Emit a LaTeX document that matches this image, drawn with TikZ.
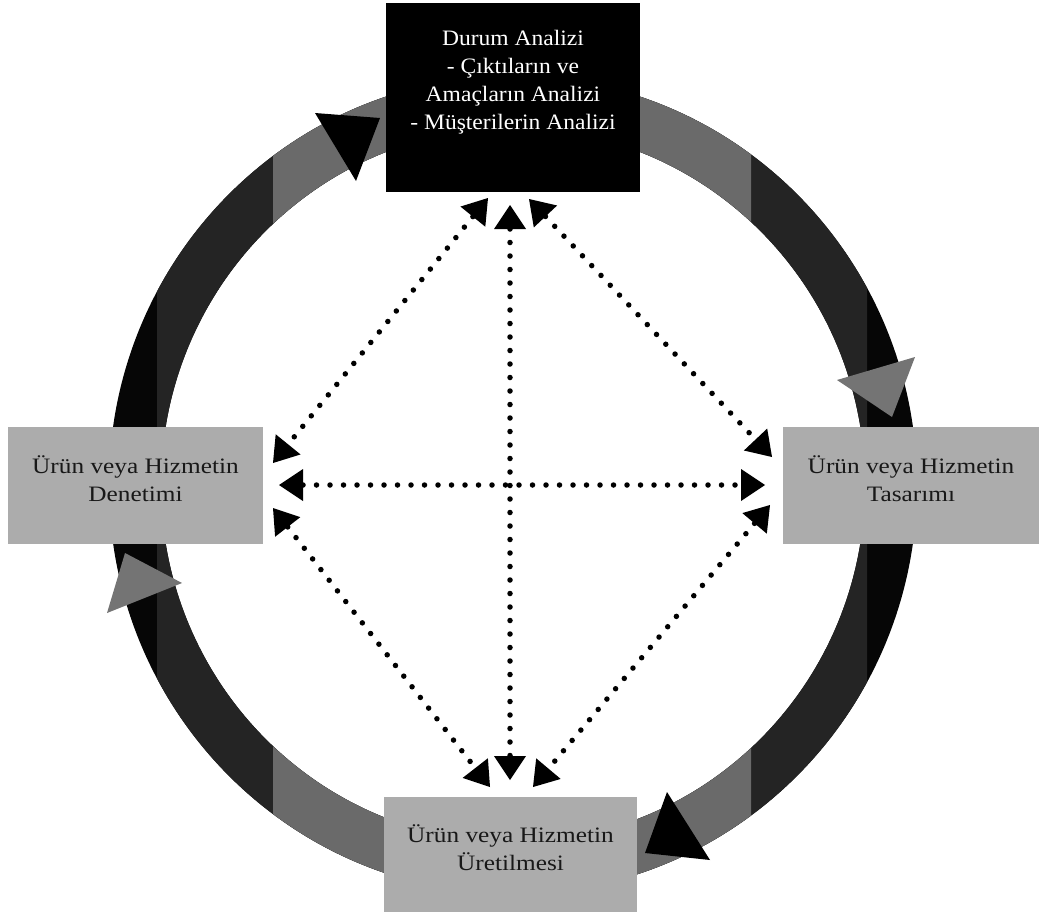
\documentclass[tikz,border=0pt]{standalone}
\usepackage{fontspec}
\setmainfont{Liberation Serif}
\newfontfamily\labelfont[FakeStretch=1.15]{Liberation Serif}
\newfontfamily\headfont[FakeStretch=1.07]{Liberation Serif}
\usetikzlibrary{arrows.meta}

\definecolor{ringblack}{RGB}{6,6,6}
\definecolor{ringdark}{RGB}{36,36,36}
\definecolor{ringmid}{RGB}{106,106,106}
\definecolor{tipgray}{RGB}{116,116,116}
\definecolor{boxgray}{RGB}{172,172,172}
\definecolor{boxtext}{RGB}{24,24,24}

% fixed first-line height and extra depth, to place the text block inside a box
\newcommand{\capstrut}{\rule{0pt}{20pt}}
\newcommand{\lowpad}[1]{\rule[-#1]{0pt}{#1}}

\begin{document}
\begin{tikzpicture}[x=1pt, y=-1pt,
  stagebox/.style={rectangle, inner sep=0pt, align=center,
    font=\labelfont\fontsize{22}{28}\selectfont, text=boxtext, fill=boxgray,
    minimum width=255pt, minimum height=117pt},
  headbox/.style={rectangle, inner sep=0pt, align=center,
    font=\headfont\fontsize{22}{28.3}\selectfont, text=white, fill=black,
    minimum width=254pt, minimum height=189pt},
  link/.style={line width=5.5pt, line cap=round, dash pattern=on 0pt off 13.5pt,
    {Triangle[length=24pt,width=32pt,line width=0pt]}-{Triangle[length=24pt,width=32pt,line width=0pt]}},
  ringband/.style={even odd rule},
]
\useasboundingbox (0,0) rectangle (1040,918);

% cycle ring, shaded in vertical bands
\fill[ringblack, ringband] (513,485) ellipse [x radius=404pt, y radius=409pt]
                           (513,485) ellipse [x radius=352pt, y radius=357pt];
\begin{scope}
  \clip (157,0) rectangle (867,918);
  \fill[ringdark, ringband] (513,485) ellipse [x radius=404pt, y radius=409pt]
                            (513,485) ellipse [x radius=352pt, y radius=357pt];
\end{scope}
\begin{scope}
  \clip (273,0) rectangle (751,918);
  \fill[ringmid, ringband] (513,485) ellipse [x radius=404pt, y radius=409pt]
                           (513,485) ellipse [x radius=352pt, y radius=357pt];
\end{scope}

% clockwise arrowheads on the ring
\fill[black]   (315,113) -- (380,118) -- (356,181) -- cycle;
\fill[tipgray] (837,380) -- (915,357) -- (892,417) -- cycle;
\fill[black]   (667,792) -- (710,860) -- (645,853) -- cycle;
\fill[tipgray] (182,583) -- (107,613) -- (125,553) -- cycle;

% stages
\node[headbox] (analysis) at (513,97.5)
  {\capstrut Durum Analizi\\- Çıktıların ve\\Amaçların Analizi\\- Müşterilerin Analizi\lowpad{40pt}};
\node[stagebox] (control) at (135.5,485.5)
  {\capstrut Ürün veya Hizmetin\\Denetimi\lowpad{17pt}};
\node[stagebox, minimum width=256pt] (design) at (911,485.5)
  {\capstrut Ürün veya Hizmetin\\Tasarımı\lowpad{17pt}};
\node[stagebox, minimum width=253pt, minimum height=115pt] (production) at (510.5,854.5)
  {\capstrut Ürün veya Hizmetin\\Üretilmesi\lowpad{17pt}};

% ends of the dotted links
\coordinate (topL) at (488,198);
\coordinate (topC) at (510,205);
\coordinate (topR) at (529,199);
\coordinate (leftU) at (273,463);
\coordinate (leftC) at (279,485);
\coordinate (leftD) at (273,508);
\coordinate (rightU) at (772,457);
\coordinate (rightC) at (765,485);
\coordinate (rightD) at (770,505);
\coordinate (botL) at (490,787);
\coordinate (botC) at (510,780);
\coordinate (botR) at (533,787);

% two-way dotted links between the stages
\draw[link] (topL) -- (leftU);
\draw[link] (topC) -- (botC);
\draw[link] (topR) -- (rightU);
\draw[link] (leftC) -- (rightC);
\draw[link] (leftD) -- (botL);
\draw[link] (rightD) -- (botR);
\end{tikzpicture}
\end{document}
